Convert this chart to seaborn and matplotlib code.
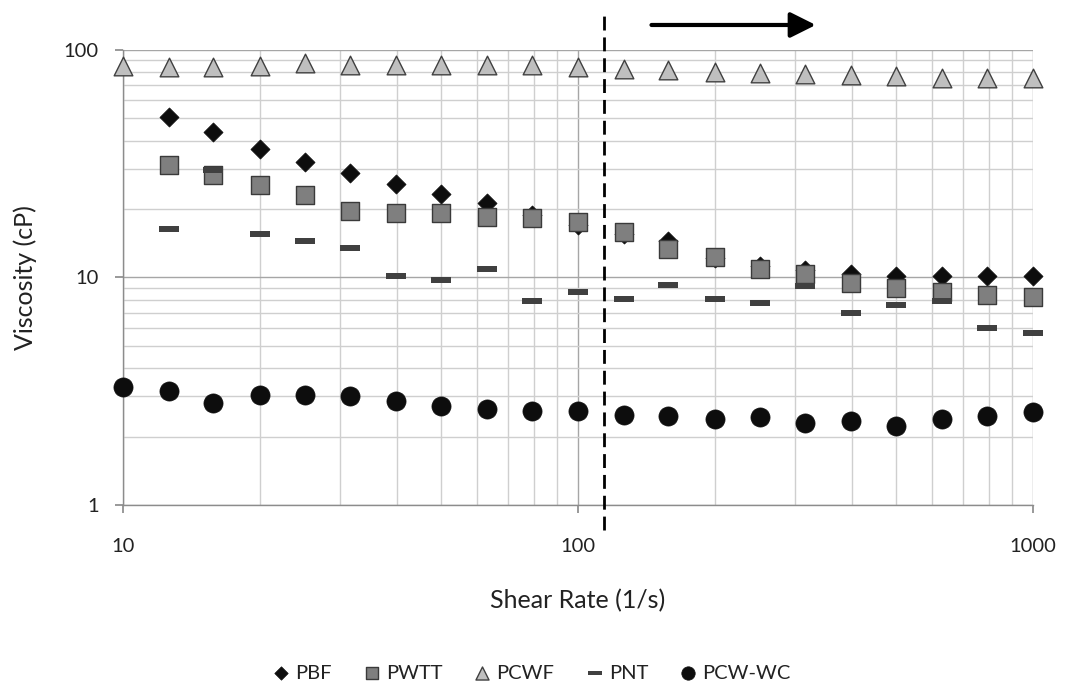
import numpy as np
import pandas as pd
import matplotlib.pyplot as plt
import seaborn as sns
from matplotlib.path import Path
from matplotlib.ticker import FuncFormatter, NullFormatter, LogLocator

# Shear rate points (1/s), 10 per decade
shear = [10, 12.6, 15.8, 20, 25.1, 31.6, 39.8, 50.1, 63.1, 79.4, 100,
         126, 158, 200, 251, 316, 398, 501, 631, 794, 1000]

# Viscosity values (cP) (None = no point)
pbf = [None, 50.6, 43.8, 36.7, 32.2, 28.9, 25.8, 23.2, 21.2, 18.9, 17.0,
       15.6, 14.5, 12.2, 11.2, 10.8, 10.4, 10.2, 10.2, 10.15, 10.2]
pwtt = [None, 31.1, 28.1, 25.5, 23.0, 19.6, 19.3, 19.2, 18.4, 18.2, 17.5,
        15.85, 13.4, 12.3, 10.9, 10.4, 9.5, 9.0, 8.66, 8.38, 8.18]
pcwf = [85, 84, 84, 85, 87.4, 86, 86, 86, 86, 85.5, 84,
        82.7, 81.5, 80.3, 79.6, 78.8, 77.6, 76.6, 75.6, 75.2, 75.6]
pnt = [None, 16.3, 29.7, 15.5, 14.4, 13.5, 10.15, 9.75, 10.9, 7.88, 8.6,
       8.07, 9.27, 8.07, 7.7, 9.2, 6.96, 7.59, 7.9, 6.0, 5.7]
pcw_wc = [3.29, 3.17, 2.82, 3.05, 3.05, 3.01, 2.87, 2.73, 2.63, 2.60, 2.60,
          2.49, 2.47, 2.38, 2.44, 2.29, 2.35, 2.23, 2.38, 2.47, 2.56]

series_names = ["PBF", "PWTT", "PCWF", "PNT", "PCW-WC"]
series_values = [pbf, pwtt, pcwf, pnt, pcw_wc]

# flat dash marker, drawn filled
dash = Path([(-1, -0.3), (1, -0.3), (1, 0.3), (-1, 0.3), (-1, -0.3)],
            [Path.MOVETO, Path.LINETO, Path.LINETO, Path.LINETO, Path.CLOSEPOLY])

styles = {
    "PBF":    dict(marker="D", color="#0d0d0d", edgecolor="#0d0d0d", s=95, linewidth=0.5),
    "PWTT":   dict(marker="s", color="#7f7f7f", edgecolor="#3a3a3a", s=170, linewidth=1.0),
    "PCWF":   dict(marker="^", color="#bfbfbf", edgecolor="#404040", s=180, linewidth=1.0),
    "PNT":    dict(marker=dash, color="#404040", edgecolor="#404040", s=190, linewidth=0),
    "PCW-WC": dict(marker="o", color="#0d0d0d", edgecolor="#0d0d0d", s=190, linewidth=0.5),
}

sns.set_theme(style="white")
plt.rcParams['font.family'] = ['Lato', 'DejaVu Sans']

fig = plt.figure(figsize=(10.68, 6.85), dpi=100)
ax = fig.add_axes([0.1152, 0.2628, 0.8521, 0.6642])

for name, vals in zip(series_names, series_values):
    df = pd.DataFrame({"shear": shear, "visc": vals}).dropna()
    sns.scatterplot(data=df, x="shear", y="visc", ax=ax, label=name,
                    zorder=3, clip_on=False, **styles[name])

ax.set_xscale("log")
ax.set_yscale("log")
ax.set_xlim(10, 1000)
ax.set_ylim(1, 100)

ax.xaxis.set_major_locator(LogLocator(base=10))
ax.yaxis.set_major_locator(LogLocator(base=10))
ax.xaxis.set_minor_locator(LogLocator(base=10, subs=np.arange(2, 10)))
ax.yaxis.set_minor_locator(LogLocator(base=10, subs=np.arange(2, 10)))
fmt = FuncFormatter(lambda v, _: f"{v:g}")
ax.xaxis.set_major_formatter(fmt)
ax.yaxis.set_major_formatter(fmt)
ax.xaxis.set_minor_formatter(NullFormatter())
ax.yaxis.set_minor_formatter(NullFormatter())

ax.grid(which="major", color="#a6a6a6", linewidth=1.0)
ax.grid(which="minor", color="#cfcfcf", linewidth=1.0)
ax.set_axisbelow(True)

for sp in ["top", "right"]:
    ax.spines[sp].set_visible(False)
for sp in ["left", "bottom"]:
    ax.spines[sp].set_color("#8c8c8c")
    ax.spines[sp].set_linewidth(1.0)

ax.tick_params(which="major", length=5.5, color="#8c8c8c", labelsize=14.5,
               labelcolor="#222222", direction="out", left=True, bottom=True)
ax.tick_params(axis="y", which="major", pad=12)
ax.tick_params(axis="x", which="major", pad=18)
ax.tick_params(which="minor", length=0)

ax.set_xlabel("Shear Rate (1/s)", fontsize=18, color="#222222")
ax.set_ylabel("Viscosity (cP)", fontsize=18, color="#222222")
ax.xaxis.set_label_coords(0.5, -0.211)
ax.yaxis.set_label_coords(-0.1077, 0.5)
ax.xaxis.label.set_va("center")
ax.yaxis.label.set_va("center")

# dashed divider and arrow above the plot
ax.plot([114, 114], [-0.055, 1.088], color="black", linewidth=2.0,
        linestyle=(0, (5, 2.5)), clip_on=False,
        transform=ax.get_xaxis_transform(), zorder=4)
ax.annotate("", xy=(333, 1.055), xytext=(145, 1.055),
            xycoords=ax.get_xaxis_transform(), textcoords=ax.get_xaxis_transform(),
            arrowprops=dict(arrowstyle="-|>,head_length=0.7,head_width=0.35",
                            color="black", lw=3.0, mutation_scale=22,
                            shrinkA=0, shrinkB=0))

ax.get_legend().remove()
handles, labels = ax.get_legend_handles_labels()
leg = fig.legend(handles, labels, loc="center", bbox_to_anchor=(0.497, 0.0175), ncol=5,
                 frameon=False, fontsize=14.5, handlelength=1.0, handletextpad=0.2,
                 columnspacing=1.5, markerscale=0.7)
for t in leg.get_texts():
    t.set_color("#222222")

fig.savefig("out.png", dpi=100)
